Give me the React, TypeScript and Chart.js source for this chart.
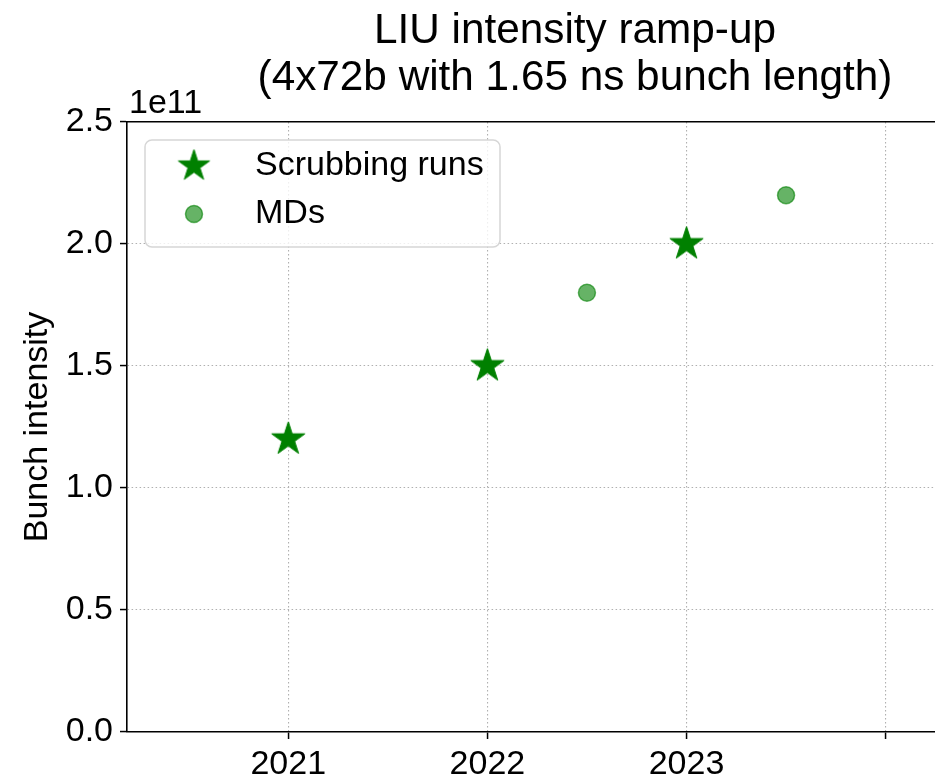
import React, { useEffect, useRef } from 'react';
import { Chart, registerables } from 'chart.js';

Chart.register(...registerables);

// ---- data ----
const scrubYears = [2021, 2022, 2023];
const scrubIntensity = [1.2e11, 1.5e11, 2.0e11];
const mdYears = [2022.5, 2023.5];
const mdIntensity = [1.8e11, 2.2e11];
const xTickValues = [2021, 2022, 2023, 2024];
const xTickLabels = ['2021', '2022', '2023', ''];
const yTickStep = 0.5e11;
const yMax = 2.5e11;
const titleLines = ['LIU intensity ramp-up', '(4x72b with 1.65 ns bunch length)'];
const yAxisTitle = 'Bunch intensity';
const offsetLabel = '1e11';
const legendLabels = ['Scrubbing runs', 'MDs'];

const FONT = "'Liberation Sans', Arial, Helvetica, sans-serif";
const GREEN = '#008000';
const MD_COLOR = 'rgba(0,128,0,0.6)';
const GRID_COLOR = '#b0b0b0';

function makeStar(R: number): HTMLCanvasElement {
  const size = Math.ceil(2 * R + 4);
  const c = document.createElement('canvas');
  c.width = size;
  c.height = size;
  const ctx = c.getContext('2d')!;
  const cx = size / 2;
  const cy = size / 2;
  const r = R * 0.381966;
  ctx.beginPath();
  for (let i = 0; i < 10; i++) {
    const rad = i % 2 === 0 ? R : r;
    const a = -Math.PI / 2 + (i * Math.PI) / 5;
    const px = cx + rad * Math.cos(a);
    const py = cy + rad * Math.sin(a);
    if (i === 0) ctx.moveTo(px, py);
    else ctx.lineTo(px, py);
  }
  ctx.closePath();
  ctx.fillStyle = GREEN;
  ctx.fill();
  ctx.strokeStyle = GREEN;
  ctx.lineWidth = 1;
  ctx.lineJoin = 'round';
  ctx.stroke();
  return c;
}

export default function App() {
  const ref = useRef<HTMLCanvasElement | null>(null);

  useEffect(() => {
    if (!ref.current) return;
    const star = makeStar(17.5);
    const legendStar = makeStar(16.5);

    const overlay = {
      id: 'mplOverlay',
      afterDraw(chart: any) {
        const ctx = chart.ctx;
        const { left, top } = chart.chartArea;
        ctx.save();
        // offset text
        ctx.font = `34px ${FONT}`;
        ctx.fillStyle = '#000';
        ctx.textAlign = 'left';
        ctx.textBaseline = 'alphabetic';
        ctx.fillText(offsetLabel, left + 2, top - 9);

        // legend box
        const bx = left + 18;
        const by = top + 18;
        const bw = 355;
        const bh = 107;
        const rr = 7;
        ctx.beginPath();
        ctx.moveTo(bx + rr, by);
        ctx.lineTo(bx + bw - rr, by);
        ctx.arcTo(bx + bw, by, bx + bw, by + rr, rr);
        ctx.lineTo(bx + bw, by + bh - rr);
        ctx.arcTo(bx + bw, by + bh, bx + bw - rr, by + bh, rr);
        ctx.lineTo(bx + rr, by + bh);
        ctx.arcTo(bx, by + bh, bx, by + bh - rr, rr);
        ctx.lineTo(bx, by + rr);
        ctx.arcTo(bx, by, bx + rr, by, rr);
        ctx.closePath();
        ctx.fillStyle = 'rgba(255,255,255,0.8)';
        ctx.fill();
        ctx.strokeStyle = 'rgba(204,204,204,0.8)';
        ctx.lineWidth = 1.5;
        ctx.stroke();

        const mx = left + 67;
        const y1 = top + 44;
        const y2 = top + 92;
        ctx.drawImage(legendStar, mx - legendStar.width / 2, y1 - legendStar.height / 2);
        ctx.beginPath();
        ctx.arc(mx, y2, 8.5, 0, Math.PI * 2);
        ctx.fillStyle = MD_COLOR;
        ctx.fill();
        ctx.strokeStyle = MD_COLOR;
        ctx.lineWidth = 1.5;
        ctx.stroke();

        ctx.fillStyle = '#000';
        ctx.textBaseline = 'middle';
        ctx.fillText(legendLabels[0], left + 128, y1);
        ctx.fillText(legendLabels[1], left + 128, y2);
        ctx.restore();
      },
    };

    const chart = new Chart(ref.current, {
      type: 'scatter',
      data: {
        datasets: [
          {
            label: legendLabels[0],
            data: scrubYears.map((x, i) => ({ x, y: scrubIntensity[i] })),
            pointStyle: star as any,
            pointRadius: 10,
            pointHoverRadius: 10,
            backgroundColor: GREEN,
            borderColor: GREEN,
          },
          {
            label: legendLabels[1],
            data: mdYears.map((x, i) => ({ x, y: mdIntensity[i] })),
            pointStyle: 'circle',
            pointRadius: 8.5,
            pointHoverRadius: 8.5,
            pointBorderWidth: 1.5,
            backgroundColor: MD_COLOR,
            borderColor: MD_COLOR,
          },
        ],
      },
      plugins: [overlay],
      options: {
        animation: false,
        responsive: false,
        maintainAspectRatio: false,
        devicePixelRatio: 1,
        layout: { padding: { left: 0, right: 7, top: 0, bottom: 0 } },
        plugins: {
          legend: { display: false },
          tooltip: { enabled: false },
          title: {
            display: true,
            fullSize: false,
            text: titleLines,
            color: '#000',
            font: { family: FONT, size: 42.3, weight: 'normal', lineHeight: '47px' },
            padding: { top: 8, bottom: 0 },
          },
        },
        scales: {
          x: {
            type: 'linear',
            position: 'bottom',
            min: 2020.19,
            max: 2024.69,
            afterBuildTicks: (scale: any) => {
              scale.ticks = xTickValues.map((v) => ({ value: v }));
            },
            afterFit: (scale: any) => {
              scale.height = 45;
            },
            ticks: {
              autoSkip: false,
              maxRotation: 0,
              padding: 5,
              color: '#000',
              font: { family: FONT, size: 34 },
              callback: (v: any) => {
                const i = xTickValues.indexOf(Number(v));
                return i >= 0 ? xTickLabels[i] : '';
              },
            },
            grid: {
              color: GRID_COLOR,
              lineWidth: 1.1,
              tickColor: '#000',
              tickWidth: 1.5,
              tickLength: 7,
            },
            border: { display: true, color: '#000', width: 1.6, dash: [1.5, 2.5] },
          },
          x2: {
            type: 'linear',
            position: 'top',
            min: 2020.19,
            max: 2024.69,
            afterFit: (scale: any) => {
              scale.height = 20;
            },
            ticks: { display: false },
            grid: { display: false, drawTicks: false },
            border: { display: true, color: '#000', width: 1.6 },
          },
          y: {
            type: 'linear',
            position: 'left',
            min: 0,
            max: yMax,
            afterFit: (scale: any) => {
              scale.width = 127;
            },
            ticks: {
              stepSize: yTickStep,
              padding: 7,
              color: '#000',
              font: { family: FONT, size: 34 },
              callback: (v: any) => (Number(v) / 1e11).toFixed(1),
            },
            grid: {
              color: GRID_COLOR,
              lineWidth: 1.1,
              tickColor: '#000',
              tickWidth: 1.5,
              tickLength: 7,
            },
            border: { display: true, color: '#000', width: 1.6, dash: [1.5, 2.5] },
            title: {
              display: true,
              text: yAxisTitle,
              color: '#000',
              font: { family: FONT, size: 34 },
              padding: { top: 17, bottom: 0 },
            },
          },
        },
      },
    });
    return () => chart.destroy();
  }, []);

  return (
    <div
      style={{
        position: 'absolute',
        left: 0,
        top: 0,
        width: 935,
        height: 777,
        overflow: 'hidden',
        background: '#fff',
      }}
    >
      <canvas ref={ref} width={1034} height={777} style={{ width: 1034, height: 777, display: 'block' }} />
    </div>
  );
}
